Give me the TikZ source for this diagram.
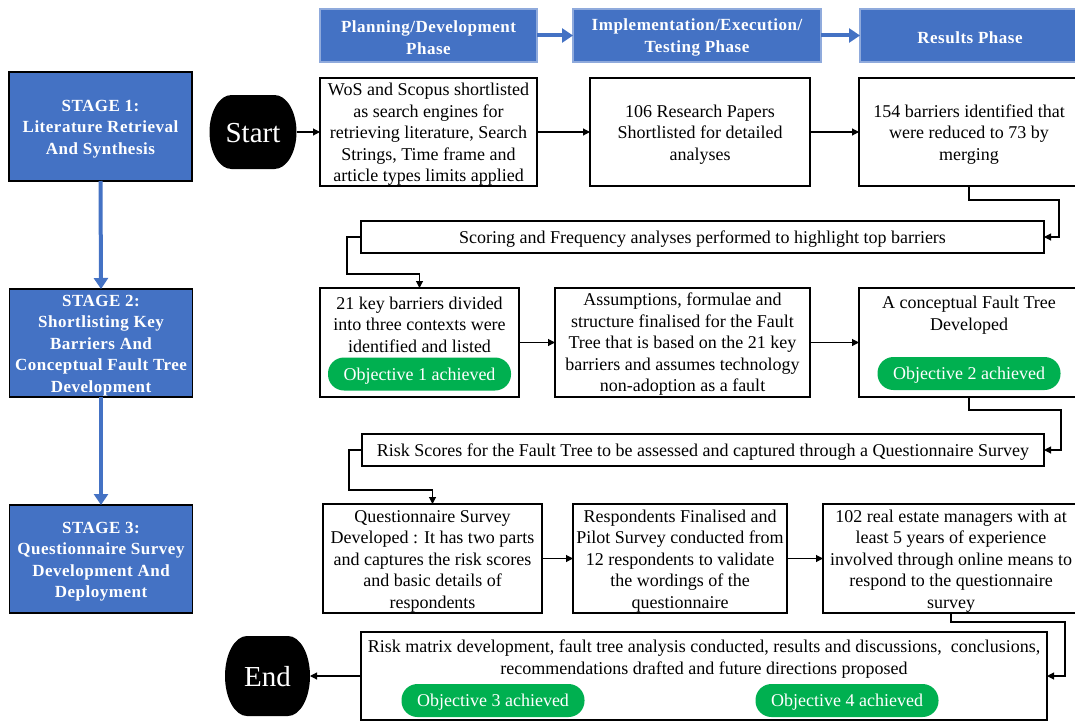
\documentclass[tikz,border=0pt]{standalone}
\usepackage{fontspec}
\setmainfont{Liberation Serif}
\usetikzlibrary{arrows.meta,calc}
\definecolor{stageblue}{HTML}{4472C4}
\definecolor{hdrline}{HTML}{8FAADC}
\definecolor{objgreen}{HTML}{00B050}

\newcommand{\headfont}{\bfseries\addfontfeatures{LetterSpace=3}\fontsize{17}{21.4}\selectfont}

\tikzset{
  txt/.style={font=\fontsize{18}{21.5}\selectfont, align=center, inner sep=0pt, outer sep=0pt},
  frame/.style={inner sep=0pt, outer sep=0pt, rectangle},
  box/.style={frame, draw=black, line width=1.1pt, fill=white},
  phase/.style={frame, fill=stageblue, draw=hdrline, line width=1.2pt, minimum height=53pt},
  phasetxt/.style={txt, font=\headfont, text=white},
  stagebox/.style={frame, fill=stageblue, draw=black, line width=1.2pt,
    minimum width=183pt, minimum height=108pt},
  termtxt/.style={txt, text=white, font=\fontsize{29}{30}\selectfont},
  goal/.style={frame, fill=objgreen, rounded corners=16pt, minimum width=183pt, minimum height=33pt},
  goaltxt/.style={txt, text=white},
  conn/.style={draw=black, line width=1.1pt, -{Triangle[length=7pt,width=7pt]}},
  blueconn/.style={draw=stageblue, line width=4pt, -{Triangle[length=11pt,width=14pt]}},
}

% terminator: flat top and bottom, elliptic sides
% #1 name, #2 x, #3 y, #4 width, #5 height, #6 half height, #7 text
\newcommand{\terminal}[7]{%
  \node[frame, minimum width=#4pt, minimum height=#5pt] (#1) at (#2,#3) {};
  \fill ($(#1.north west)+(22,0)$) -- ($(#1.north east)+(-22,0)$)
    arc[start angle=90, end angle=-90, x radius=22pt, y radius=#6pt]
    -- ($(#1.south west)+(22,0)$)
    arc[start angle=270, end angle=90, x radius=22pt, y radius=#6pt] -- cycle;
  \node[termtxt] at ($(#1)+(0,1)$) {#7};%
}

\begin{document}
\begin{tikzpicture}[x=1pt,y=-1pt]
\useasboundingbox (0,0) rectangle (1075,725);

% phase headers
\node[phase, minimum width=217pt] (ph1) at (428.5,35.5) {};
\node[phasetxt] at ($(ph1)+(0,2)$) {Planning/Development\\Phase};
\node[phase, minimum width=248pt] (ph2) at (697,35.5) {};
\node[phasetxt] at ($(ph2)+(0,2)$) {Implementation/Execution/\\Testing Phase};
\node[phase, minimum width=220pt] (ph3) at (970,35.5) {};
\node[phasetxt] at ($(ph3)+(0,2)$) {Results Phase};
\draw[blueconn] (ph1.east) -- (ph2.west);
\draw[blueconn] (ph2.east) -- (ph3.west);

% stages
\node[stagebox, minimum height=109pt] (s1) at (100.5,126.5) {};
\node[phasetxt] at ($(s1)+(0,2.5)$) {STAGE 1:\\Literature Retrieval\\And Synthesis};
\node[stagebox] (s2) at (101,343) {};
\node[phasetxt] at ($(s2)+(0,2.5)$) {STAGE 2:\\Shortlisting Key\\Barriers And\\Conceptual Fault Tree\\Development};
\node[stagebox] (s3) at (101,559) {};
\node[phasetxt] at ($(s3)+(0,2.5)$) {STAGE 3:\\Questionnaire Survey\\Development And\\Deployment};
\draw[blueconn] (s1.south) -- (s2.north);
\draw[blueconn] (s2.south) -- (s3.north);

% terminators
\terminal{start}{253}{132}{87}{74}{37}{Start}
\terminal{end}{267.5}{676}{85}{80}{40}{End}

% row 1
\node[box, minimum width=217pt, minimum height=108pt] (b1) at (428.5,132) {};
\node[txt] at ($(b1)+(0,2.5)$)
  {WoS and Scopus shortlisted\\as search engines for\\retrieving literature, Search\\Strings, Time frame and\\article types limits applied};
\node[box, minimum width=220pt, minimum height=108pt] (b2) at (700,132) {};
\node[txt] at ($(b2)+(0,2.5)$) {106 Research Papers\\Shortlisted for detailed\\analyses};
\node[box, minimum width=220pt, minimum height=108pt] (b3) at (969,132) {};
\node[txt] at ($(b3)+(0,2.5)$) {154 barriers identified that\\were reduced to 73 by\\merging};

\node[box, minimum width=683pt, minimum height=32pt] (sc) at (702.5,237) {};
\node[txt] at ($(sc)+(0,2.5)$) {Scoring and Frequency analyses performed to highlight top barriers};

% row 2
\node[box, minimum width=199pt, minimum height=109pt] (k1) at (419.5,342.5) {};
\node[txt] at (419.5,324.5) {21 key barriers divided\\into three contexts were\\identified and listed};
\node[goal] (o1) at (419.5,374) {};
\node[goaltxt] at ($(o1)+(0,2)$) {Objective 1 achieved};
\node[box, minimum width=255pt, minimum height=109pt] (k2) at (682.5,342.5) {};
\node[txt] at ($(k2)+(0,2)$)
  {Assumptions, formulae and\\structure finalised for the Fault\\Tree that is based on the 21 key\\barriers and assumes technology\\non-adoption as a fault};
\node[box, minimum width=220pt, minimum height=109pt] (k3) at (969,342.5) {};
\node[txt] at (969,315) {A conceptual Fault Tree\\Developed};
\node[goal] (o2) at (969,373.5) {};
\node[goaltxt] at ($(o2)+(0,2)$) {Objective 2 achieved};

\node[box, minimum width=682pt, minimum height=32pt] (rk) at (703,450) {};
\node[txt] at ($(rk)+(0,2.5)$) {Risk Scores for the Fault Tree to be assessed and captured through a Questionnaire Survey};

% row 3
\node[box, minimum width=219pt, minimum height=109pt] (q1) at (432.5,558.5) {};
\node[txt] at ($(q1)+(0,2.5)$)
  {Questionnaire Survey\\Developed : It has two parts\\and captures the risk scores\\and basic details of\\respondents};
\node[box, minimum width=214pt, minimum height=109pt] (q2) at (680,558.5) {};
\node[txt] at ($(q2)+(0,2.5)$)
  {Respondents Finalised and\\Pilot Survey conducted from\\12 respondents to validate\\the wordings of the\\questionnaire};
\node[box, minimum width=256pt, minimum height=109pt] (q3) at (951,558.5) {};
\node[txt] at ($(q3)+(0,2.5)$)
  {102 real estate managers with at\\least 5 years of experience\\involved through online means to\\respond to the questionnaire\\survey};

\node[box, minimum width=686pt, minimum height=88pt] (fin) at (704,676) {};
\node[txt] at (704,659)
  {Risk matrix development, fault tree analysis conducted, results and discussions,\ \ conclusions,\\recommendations drafted and future directions proposed};
\node[goal] (o3) at (493,700.5) {};
\node[goaltxt] at ($(o3)+(0,2)$) {Objective 3 achieved};
\node[goal] (o4) at (847,700.5) {};
\node[goaltxt] at ($(o4)+(0,2)$) {Objective 4 achieved};

% connectors
\draw[conn] (start.east) -- (b1.west);
\draw[conn] (b1.east) -- (b2.west);
\draw[conn] (b2.east) -- (b3.west);
\draw[conn] (b3.south) -- ++(0,14) -| ($(sc.east)+(15,0)$) -- (sc.east);
\draw[conn] (sc.west) -- ++(-14,0) |- ($(k1.north)+(0,-14)$) -- (k1.north);
\draw[conn] (k1.east) -- (k2.west);
\draw[conn] (k2.east) -- (k3.west);
\draw[conn] (k3.south) -- ++(0,13) -| ($(rk.east)+(17,0)$) -- (rk.east);
\draw[conn] (rk.west) -- ++(-13,0) |- ($(q1.north)+(0,-14)$) -- (q1.north);
\draw[conn] (q1.east) -- (q2.west);
\draw[conn] (q2.east) -- (q3.west);
\draw[conn] (q3.south) -- ++(0,9) -| ($(fin.east)+(18,0)$) -- (fin.east);
\draw[conn] (fin.west) -- (end.east);
\end{tikzpicture}
\end{document}
